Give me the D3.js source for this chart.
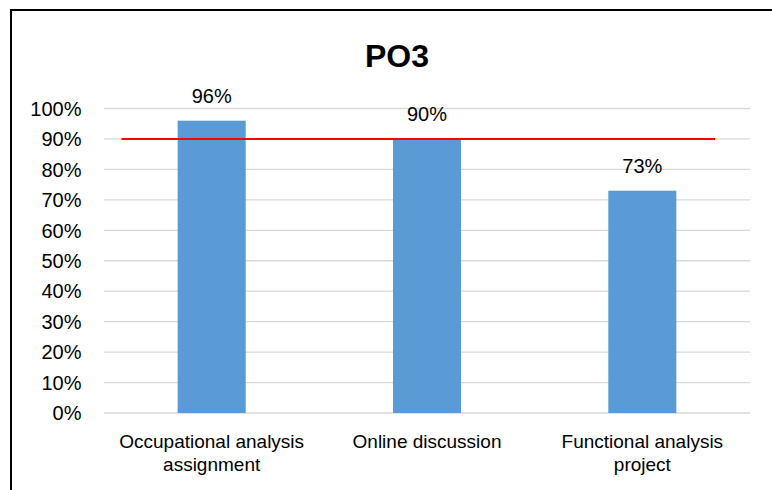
<!DOCTYPE html>
<html>
<head>
<meta charset="utf-8">
<script src="https://cdn.jsdelivr.net/npm/d3@7"></script>
<style>
  body { margin: 0; background: #fff; }
  svg { display: block; font-family: "Liberation Sans", Arial, sans-serif; }
</style>
</head>
<body>
<div id="chart"></div>
<script>
var categories = [["Occupational analysis", "assignment"], ["Online discussion"], ["Functional analysis", "project"]];
var values = [96, 90, 73];
var target = 90;
var yTicks = [0, 10, 20, 30, 40, 50, 60, 70, 80, 90, 100];
var title = "PO3";

var width = 772, height = 490;
var plotLeft = 104, plotRight = 750, plotTop = 108.5, plotBottom = 413;

var svg = d3.select("#chart").append("svg")
    .attr("width", width)
    .attr("height", height);

// outer frame (only top and left visible in the crop)
svg.append("rect")
    .attr("x", 11).attr("y", 10)
    .attr("width", 800).attr("height", 520)
    .attr("fill", "none")
    .attr("stroke", "#000")
    .attr("stroke-width", 2);

var x = d3.scaleBand()
    .domain(d3.range(categories.length))
    .range([plotLeft, plotRight])
    .paddingInner(0.684)
    .paddingOuter(0.342);

var y = d3.scaleLinear()
    .domain([0, 100])
    .range([plotBottom, plotTop]);

// gridlines
svg.append("g")
    .selectAll("line")
    .data(yTicks)
    .join("line")
    .attr("x1", plotLeft).attr("x2", plotRight)
    .attr("y1", d => y(d)).attr("y2", d => y(d))
    .attr("stroke", "#d9d9d9")
    .attr("stroke-width", 1.3);

// y tick labels
svg.append("g")
    .selectAll("text")
    .data(yTicks)
    .join("text")
    .attr("x", 81.5)
    .attr("y", d => y(d))
    .attr("dy", "0.36em")
    .attr("text-anchor", "end")
    .attr("font-size", 20)
    .attr("fill", "#000")
    .text(d => d + "%");

// bars
svg.append("g")
    .selectAll("rect")
    .data(values)
    .join("rect")
    .attr("x", (d, i) => x(i))
    .attr("y", d => y(d))
    .attr("width", x.bandwidth())
    .attr("height", d => y(0) - y(d))
    .attr("fill", "#5b9bd5");

// value labels
svg.append("g")
    .selectAll("text")
    .data(values)
    .join("text")
    .attr("x", (d, i) => x(i) + x.bandwidth() / 2)
    .attr("y", d => y(d) - 18)
    .attr("text-anchor", "middle")
    .attr("font-size", 20)
    .attr("fill", "#000")
    .text(d => d + "%");

// target line
var lineX = d3.scaleLinear().domain([0, 1]).range([plotLeft, plotRight]);
svg.append("line")
    .attr("x1", lineX(0.027)).attr("x2", lineX(0.946))
    .attr("y1", y(target)).attr("y2", y(target))
    .attr("stroke", "#ff0000")
    .attr("stroke-width", 2);

// category labels
var cat = svg.append("g")
    .selectAll("text")
    .data(categories)
    .join("text")
    .attr("x", (d, i) => x(i) + x.bandwidth() / 2)
    .attr("y", 448)
    .attr("text-anchor", "middle")
    .attr("font-size", 19)
    .attr("fill", "#000");

cat.selectAll("tspan")
    .data(d => d)
    .join("tspan")
    .attr("x", function() { return d3.select(this.parentNode).attr("x"); })
    .attr("dy", (d, i) => i === 0 ? 0 : 23)
    .text(d => d);

// title
svg.append("text")
    .attr("x", 397)
    .attr("y", 67)
    .attr("text-anchor", "middle")
    .attr("font-size", 32)
    .attr("font-weight", "bold")
    .attr("fill", "#000")
    .text(title);
</script>
</body>
</html>
